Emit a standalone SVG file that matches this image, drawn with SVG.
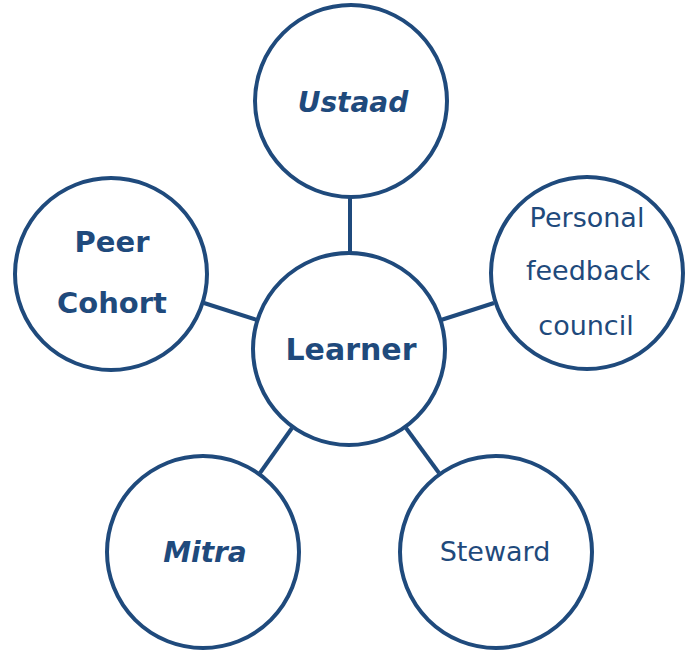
<svg xmlns="http://www.w3.org/2000/svg" width="689" height="651" viewBox="0 0 689 651">
<style>
.node{fill:#ffffff;stroke:#1F4A7C;stroke-width:4}
.edge{stroke:#1F4A7C;stroke-width:4;fill:none}
text{font-family:"DejaVu Sans",Verdana,sans-serif;fill:#1F4A7C;text-anchor:middle}
.b{font-weight:bold}
.bi{font-weight:bold;font-style:italic}
</style>
<rect width="689" height="651" fill="#ffffff"/>
<g id="connectors">
<line class="edge" x1="350" y1="198" x2="350" y2="253"/>
<line class="edge" x1="204" y1="303" x2="257" y2="320"/>
<line class="edge" x1="441" y1="320" x2="494" y2="303"/>
<line class="edge" x1="292" y1="428" x2="260" y2="473"/>
<line class="edge" x1="406" y1="428" x2="439" y2="473"/>
</g>
<g id="learner">
<circle class="node" cx="349" cy="349" r="96"/>
<text class="b" x="351" y="360" font-size="30">Learner</text>
</g>
<g id="ustaad">
<circle class="node" cx="351" cy="101" r="96"/>
<text class="bi" x="353" y="112" font-size="28">Ustaad</text>
</g>
<g id="peer-cohort">
<circle class="node" cx="111" cy="274" r="96"/>
<text class="b" x="112" y="252" font-size="29">Peer</text>
<text class="b" x="112" y="313" font-size="29">Cohort</text>
</g>
<g id="personal-feedback-council">
<circle class="node" cx="587" cy="273" r="96"/>
<text x="587" y="227" font-size="27">Personal</text>
<text x="588" y="280" font-size="27">feedback</text>
<text x="586" y="335" font-size="27">council</text>
</g>
<g id="mitra">
<circle class="node" cx="203" cy="552" r="96"/>
<text class="bi" x="205" y="562" font-size="28">Mitra</text>
</g>
<g id="steward">
<circle class="node" cx="496" cy="552" r="96"/>
<text x="495" y="561" font-size="27">Steward</text>
</g>
</svg>
